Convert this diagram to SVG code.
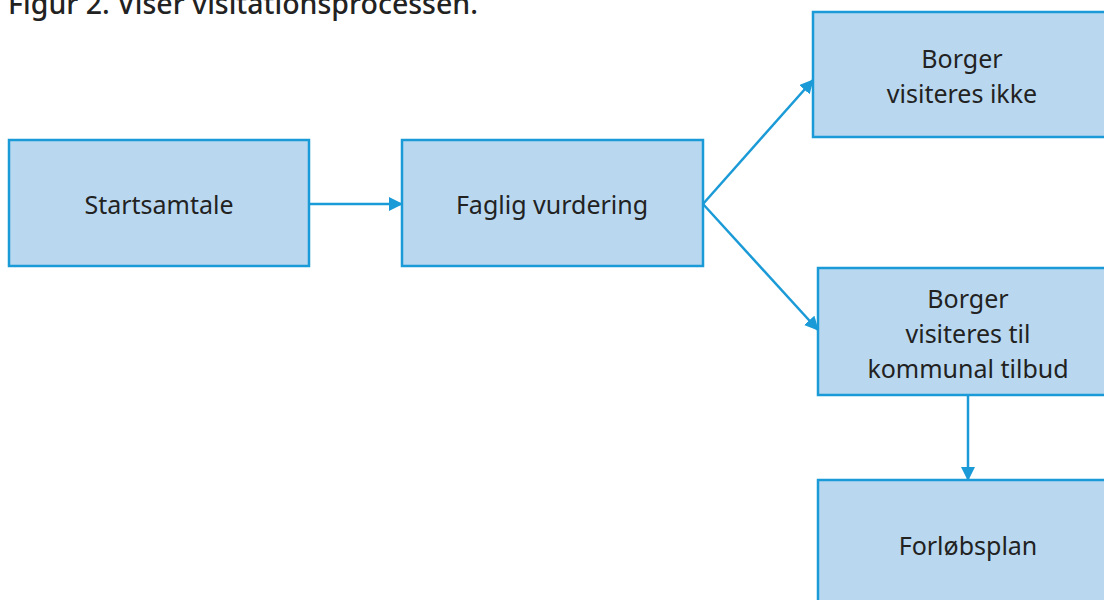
<svg xmlns="http://www.w3.org/2000/svg" width="1104" height="600" viewBox="0 0 1104 600">
<style>
.box{fill:#b9d8f0;stroke:#1a9ad6;stroke-width:2.5}
.lbl{font-family:"Noto Sans","Liberation Sans",sans-serif;font-size:25px;fill:#222;text-anchor:middle}
.ttl{font-family:"Noto Sans","Liberation Sans",sans-serif;font-size:28.5px;fill:#222;font-weight:500}
.con{stroke:#1a9ad6;stroke-width:2.5;fill:none;marker-end:url(#ah)}
</style>
<defs>
<marker id="ah" viewBox="0 0 14 14" refX="13" refY="7" markerWidth="14" markerHeight="14" markerUnits="userSpaceOnUse" orient="auto">
<path d="M0,0 L14,7 L0,14 z" fill="#1a9ad6"/>
</marker>
</defs>
<text class="ttl" x="8" y="14">Figur 2. Viser visitationsprocessen.</text>
<g id="connectors">
<line class="con" x1="309" y1="204" x2="402" y2="204"/>
<line class="con" x1="703" y1="204" x2="813" y2="80"/>
<line class="con" x1="703" y1="204" x2="818" y2="330"/>
<line class="con" x1="968" y1="395" x2="968" y2="480"/>
</g>
<g id="startsamtale">
<rect class="box" x="9" y="140" width="300" height="126"/>
<text class="lbl" x="159" y="214">Startsamtale</text>
</g>
<g id="faglig">
<rect class="box" x="402" y="140" width="301" height="126"/>
<text class="lbl" x="552" y="214">Faglig vurdering</text>
</g>
<g id="ikke">
<rect class="box" x="813" y="12" width="300" height="125"/>
<text class="lbl" x="962" y="68">Borger</text>
<text class="lbl" x="962" y="103">visiteres ikke</text>
</g>
<g id="tilbud">
<rect class="box" x="818" y="268" width="300" height="127"/>
<text class="lbl" x="968" y="308">Borger</text>
<text class="lbl" x="968" y="343">visiteres til</text>
<text class="lbl" x="968" y="378">kommunal tilbud</text>
</g>
<g id="forloebsplan">
<rect class="box" x="818" y="480" width="300" height="140"/>
<text class="lbl" x="968" y="555">Forløbsplan</text>
</g>
</svg>
